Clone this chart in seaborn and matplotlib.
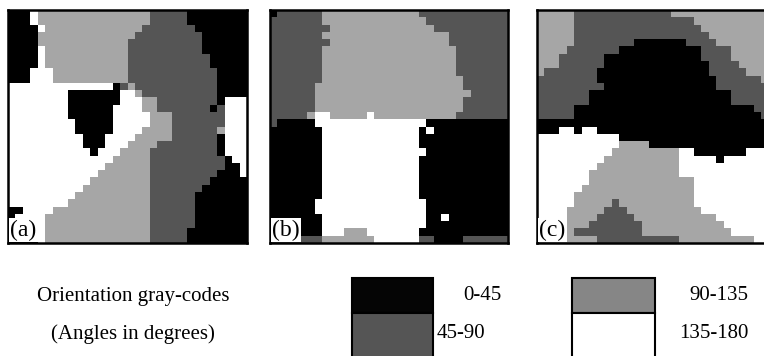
import numpy as np
import matplotlib
matplotlib.use("Agg")
import matplotlib.pyplot as plt
from matplotlib.colors import ListedColormap
from matplotlib.patches import Rectangle
import seaborn as sns

# Orientation code of every cell: 0 = 0-45, 1 = 45-90, 2 = 90-135, 3 = 135-180.
# Each row is run-length coded as "code*count" tokens, 32 cells per row.
map_a = [
    "0*3 3*1 2*15 1*5 0*8",
    "0*3 3*1 2*15 1*5 0*8",
    "0*4 3*1 2*13 1*7 0*7",
    "0*4 2*13 1*9 0*6",
    "0*4 2*12 1*10 0*6",
    "0*4 3*1 2*11 1*10 0*6",
    "0*4 3*1 2*11 1*11 0*5",
    "0*4 3*1 2*11 1*11 0*5",
    "0*3 3*3 2*10 1*12 0*4",
    "0*3 3*3 2*10 1*12 0*4",
    "3*14 0*1 1*1 2*1 1*11 0*4",
    "3*8 0*7 3*2 2*1 1*10 0*4",
    "3*8 0*7 3*3 2*2 1*8 0*1 3*3",
    "3*8 0*6 3*4 2*2 1*7 0*1 1*1 3*3",
    "3*8 0*6 3*5 2*3 1*7 3*3",
    "3*9 0*5 3*5 2*3 1*7 3*3",
    "3*9 0*5 3*4 2*4 1*6 2*1 3*3",
    "3*10 0*3 3*4 2*5 1*6 0*1 3*3",
    "3*10 0*3 3*3 2*4 1*8 0*1 3*3",
    "3*11 0*1 3*3 2*4 1*9 0*1 3*3",
    "3*14 2*5 1*10 0*1 3*2",
    "3*13 2*6 1*10 0*2 3*1",
    "3*12 2*7 1*9 0*3 3*1",
    "3*11 2*8 1*8 0*5",
    "3*10 2*9 1*7 0*6",
    "3*9 2*10 1*6 0*7",
    "3*8 2*11 1*6 0*7",
    "0*2 3*4 2*13 1*6 0*7",
    "0*1 3*4 2*14 1*6 0*7",
    "0*1 3*4 2*14 1*6 0*7",
    "0*1 3*4 2*14 1*5 0*8",
    "0*4 3*1 2*14 1*5 0*8",
]

map_b = [
    "0*1 1*6 2*13 1*12",
    "1*7 2*14 1*11",
    "1*8 2*14 1*10",
    "1*7 2*17 1*8",
    "1*8 2*16 1*8",
    "1*7 2*18 1*7",
    "1*7 2*18 1*7",
    "1*7 2*18 1*7",
    "1*7 2*18 1*7",
    "1*7 2*19 1*6",
    "1*6 2*20 1*6",
    "1*6 2*21 1*5",
    "1*6 2*20 1*6",
    "1*6 2*20 1*6",
    "1*5 2*1 3*2 2*5 3*1 2*11 1*7",
    "1*1 0*5 3*15 0*11",
    "0*7 3*13 0*1 3*1 0*10",
    "0*7 3*13 0*12",
    "0*7 3*13 0*12",
    "0*7 3*14 0*11",
    "0*7 3*13 0*12",
    "0*7 3*13 0*12",
    "0*7 3*13 0*12",
    "0*7 3*13 0*12",
    "0*7 3*13 0*12",
    "0*7 3*13 0*12",
    "0*6 3*15 0*11",
    "0*6 3*15 0*11",
    "0*7 3*14 0*2 3*1 0*8",
    "0*7 3*14 0*11",
    "0*7 3*3 2*3 3*7 0*12",
    "1*7 2*7 3*6 1*2 0*4 1*6",
]

map_c = [
    "2*5 1*13 2*14",
    "2*5 1*16 2*11",
    "2*5 1*17 2*10",
    "2*5 1*18 2*9",
    "2*5 1*8 0*7 1*4 2*8",
    "2*4 1*7 0*11 1*4 2*6",
    "2*3 1*6 0*13 1*4 2*6",
    "2*3 1*6 0*14 1*4 2*5",
    "2*1 1*7 0*15 1*5 2*4",
    "1*8 0*16 1*6 2*2",
    "1*9 0*15 1*8",
    "1*7 0*19 1*6",
    "1*7 0*19 1*6",
    "1*5 0*24 1*3",
    "1*5 0*25 1*2",
    "0*32",
    "0*3 3*2 0*1 3*2 0*24",
    "3*11 0*21",
    "3*11 2*4 0*17",
    "3*10 2*9 3*2 0*7 3*4",
    "3*9 2*10 3*5 0*1 3*7",
    "3*8 2*11 3*13",
    "3*7 2*12 3*13",
    "3*7 2*14 3*11",
    "3*6 2*15 3*11",
    "3*5 2*16 3*11",
    "3*5 2*5 1*1 2*10 3*11",
    "3*4 2*5 1*3 2*10 3*10",
    "3*4 2*4 1*5 2*11 3*8",
    "3*3 2*4 1*7 2*11 3*7",
    "3*2 2*3 1*9 2*12 3*6",
    "2*8 1*11 2*10 3*3",
]

panel_labels = ["(a)", "(b)", "(c)"]
code_labels = ["0-45", "45-90", "90-135", "135-180"]
code_colors = ["#000000", "#555555", "#a6a6a6", "#ffffff"]
swatch_colors = ["#050505", "#555555", "#868686", "#ffffff"]
legend_title = ["Orientation gray-codes", "(Angles in degrees)"]


def decode(rows, width=32):
    grid = []
    for row in rows:
        cells = []
        for tok in row.split():
            code, count = tok.split("*")
            cells += [int(code)] * int(count)
        cells = cells[:width] + [cells[-1]] * (width - len(cells))
        grid.append(cells)
    return np.array(grid)


W, H = 764, 356
fig = plt.figure(figsize=(W / 100, H / 100), dpi=100)
fig.patch.set_facecolor("white")
serif = ["Liberation Serif", "DejaVu Serif"]


def fig_box(x0, y0, x1, y1):
    """Pixel box (top-left origin) to figure fraction [left, bottom, width, height]."""
    return [x0 / W, 1 - y1 / H, (x1 - x0) / W, (y1 - y0) / H]


cmap = ListedColormap(code_colors)
panels = [map_a, map_b, map_c]
panel_boxes = [(8, 10, 247, 243), (270, 10, 508, 243), (537, 10, 776, 243)]

for rows, box, label in zip(panels, panel_boxes, panel_labels):
    ax = fig.add_axes(fig_box(*box))
    sns.heatmap(decode(rows), cmap=cmap, vmin=-0.5, vmax=3.5, cbar=False,
                xticklabels=False, yticklabels=False, ax=ax)
    ax.set_xlabel("")
    ax.set_ylabel("")
    for side in ax.spines.values():
        side.set_visible(True)
        side.set_color("black")
        side.set_linewidth(1.8)
    ax.text(0.01, 0.01, label, transform=ax.transAxes, ha="left", va="bottom",
            fontsize=17, family=serif, color="black",
            bbox=dict(boxstyle="square,pad=0.06", fc="white", ec="none"))

# legend: swatches and their angle ranges
swatches = [
    (352, 278, 433, 313),
    (352, 313, 433, 360),
    (572, 278, 655, 313),
    (572, 313, 655, 360),
]
label_pos = [(501, 296, "right"), (437, 334, "left"),
             (748, 296, "right"), (679, 334, "left")]

for (x0, y0, x1, y1), color in zip(swatches, swatch_colors):
    fig.patches.append(Rectangle((x0 / W, 1 - y1 / H), (x1 - x0) / W, (y1 - y0) / H,
                                 transform=fig.transFigure, facecolor=color,
                                 edgecolor="black", linewidth=1.5))

for (x, y, ha), text in zip(label_pos, code_labels):
    fig.text(x / W, 1 - y / H, text, ha=ha, va="center", fontsize=15, family=serif)

fig.text(133 / W, 1 - 296 / H, legend_title[0], ha="center", va="center",
         fontsize=15, family=serif)
fig.text(133 / W, 1 - 334 / H, legend_title[1], ha="center", va="center",
         fontsize=15, family=serif)

fig.savefig("out.png", dpi=100, facecolor="white")
